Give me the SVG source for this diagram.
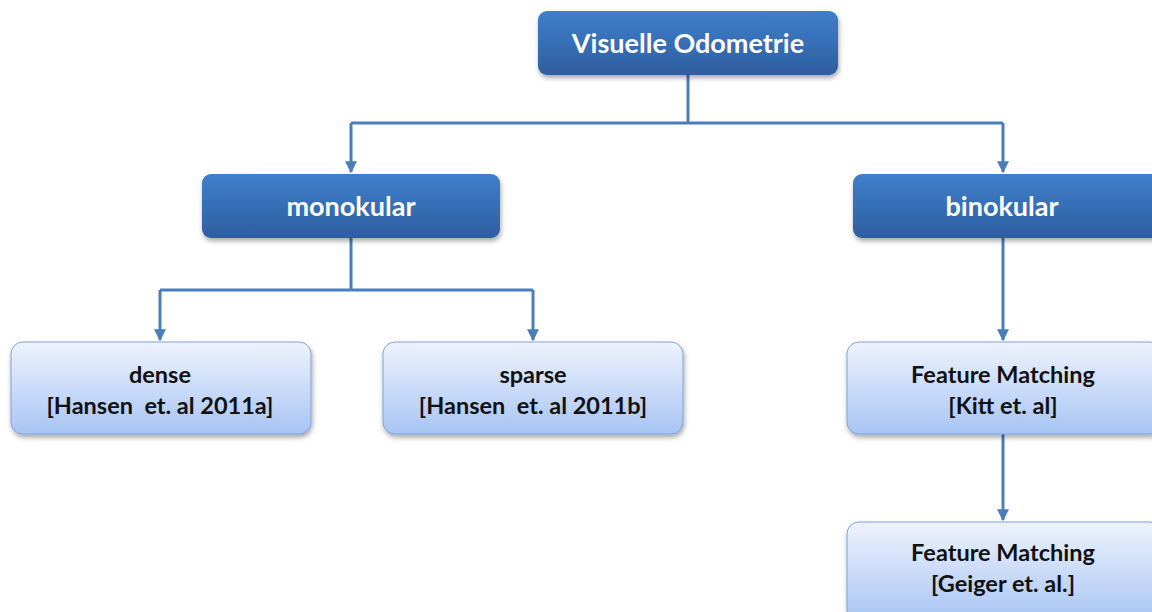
<svg xmlns="http://www.w3.org/2000/svg" width="1152" height="612" viewBox="0 0 1152 612">
  <defs>
    <linearGradient id="gDark" x1="0" y1="0" x2="0" y2="1">
      <stop offset="0" stop-color="#3f7fcc"/>
      <stop offset="1" stop-color="#2e5e9f"/>
    </linearGradient>
    <linearGradient id="gLight" x1="0" y1="0" x2="0" y2="1">
      <stop offset="0" stop-color="#eef3fd"/>
      <stop offset="1" stop-color="#a7c4f4"/>
    </linearGradient>
    <filter id="shadow" x="-10%" y="-20%" width="120%" height="150%">
      <feDropShadow dx="1" dy="3" stdDeviation="2.5" flood-color="#000" flood-opacity="0.35"/>
    </filter>
    <marker id="arrow" viewBox="0 0 10 10" refX="9" refY="5" markerWidth="4" markerHeight="5.5" markerUnits="strokeWidth" orient="auto">
      <path d="M0,0 L10,5 L0,10 Z" fill="#4a7ebb"/>
    </marker>
  </defs>
  <style>
    .dark { fill: url(#gDark); filter: url(#shadow); }
    .light { fill: url(#gLight); stroke: #7fa3d6; stroke-width: 1; filter: url(#shadow); }
    .tw { font-family: Lato, "Open Sans", "Liberation Sans", sans-serif; font-weight: bold; font-size: 27px; fill: #ffffff; text-anchor: middle; }
    .tb { font-family: Lato, "Open Sans", "Liberation Sans", sans-serif; font-weight: bold; font-size: 23.5px; fill: #111111; text-anchor: middle; white-space: pre; }
    .conn { fill: none; stroke: #4a7ebb; stroke-width: 3; }
  </style>

  <!-- connectors -->
  <g id="connectors">
    <path class="conn" d="M688,75 V123"/>
    <path class="conn" d="M351,123 H1003"/>
    <path class="conn" d="M351,123 V172" marker-end="url(#arrow)"/>
    <path class="conn" d="M1003,123 V172" marker-end="url(#arrow)"/>
    <path class="conn" d="M351,238 V290"/>
    <path class="conn" d="M160,290 H533"/>
    <path class="conn" d="M160,290 V340" marker-end="url(#arrow)"/>
    <path class="conn" d="M533,290 V340" marker-end="url(#arrow)"/>
    <path class="conn" d="M1003,238 V340" marker-end="url(#arrow)"/>
    <path class="conn" d="M1003,434 V520" marker-end="url(#arrow)"/>
  </g>

  <!-- root -->
  <g id="node-root">
    <rect class="dark" x="538" y="11" width="300" height="64" rx="9"/>
    <text class="tw" x="688" y="53">Visuelle Odometrie</text>
  </g>

  <g id="node-monokular">
    <rect class="dark" x="202" y="174" width="298" height="64" rx="9"/>
    <text class="tw" x="351" y="216">monokular</text>
  </g>

  <g id="node-binokular">
    <rect class="dark" x="853" y="174" width="310" height="64" rx="9"/>
    <text class="tw" x="1002" y="216">binokular</text>
  </g>

  <g id="node-dense">
    <rect class="light" x="11" y="342" width="300" height="92" rx="12"/>
    <text class="tb" x="160" y="383">dense</text>
    <text class="tb" x="160" y="414">[Hansen  et. al 2011a]</text>
  </g>

  <g id="node-sparse">
    <rect class="light" x="383" y="342" width="300" height="92" rx="12"/>
    <text class="tb" x="533" y="383">sparse</text>
    <text class="tb" x="533" y="414">[Hansen  et. al 2011b]</text>
  </g>

  <g id="node-kitt">
    <rect class="light" x="847" y="342" width="315" height="92" rx="12"/>
    <text class="tb" x="1003" y="383">Feature Matching</text>
    <text class="tb" x="1003" y="414">[Kitt et. al]</text>
  </g>

  <g id="node-geiger">
    <rect class="light" x="847" y="522" width="315" height="100" rx="12"/>
    <text class="tb" x="1003" y="561">Feature Matching</text>
    <text class="tb" x="1003" y="592">[Geiger et. al.]</text>
  </g>
</svg>
